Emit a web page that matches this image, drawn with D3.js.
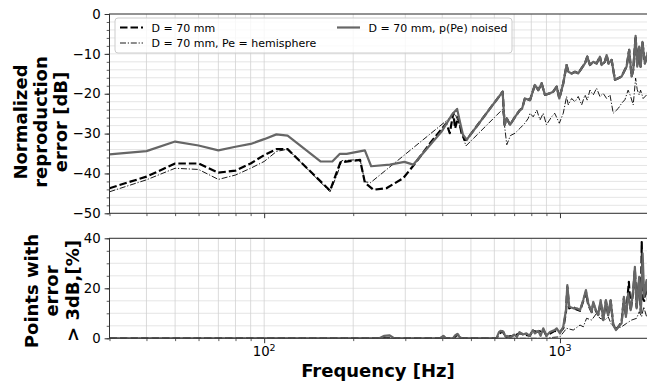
<!DOCTYPE html>
<html>
<head>
<meta charset="utf-8">
<script src="https://cdn.jsdelivr.net/npm/d3@7"></script>
<style>
  body { margin: 0; background: #fff; }
  svg text { font-family: "DejaVu Sans", sans-serif; fill: #000; }
</style>
</head>
<body>
<svg id="chart" width="647" height="384"></svg>
<script>
// ---- data ----
// upper panel: normalized reproduction error [dB]
const dashedFreq = [30, 40, 50, 60, 70, 80, 90, 100, 110, 120, 167, 181, 211, 219, 234, 259, 295, 319, 364, 413,
  424, 436, 442, 453, 465, 476,
  484, 640, 650, 661, 678, 705, 732, 745, 761, 792, 812, 823, 845, 867, 890, 925, 949, 975, 995, 1026,
  1053, 1067, 1095, 1124, 1153, 1184, 1215, 1237, 1263, 1296, 1330, 1365, 1383, 1419, 1438, 1460, 1495, 1534, 1574, 1616,
  1658, 1680, 1714, 1747, 1769, 1802, 1825, 1853, 1873, 1900, 1937, 1985];
const dashedErr = [-43.7, -40.8, -37.5, -37.5, -39.8, -39.3, -37.5, -35.4, -33.9, -33.9, -44.3, -37.2, -36.6, -42.3, -44.1, -43.7, -41.2, -38.1, -32.4, -27.4,
  -29.9, -24.9, -28.7, -25.8, -29.9, -31.6,
  -31.5, -19.5, -27.8, -26.2, -27.8, -25.8, -24.1, -23.7, -21.2, -21.6, -19.1, -17.8, -19.1, -17.4, -20.3, -19.9, -19.5, -18.2, -21.2, -17.4,
  -12.8, -14.5, -14.9, -14.5, -14.9, -13.6, -12.4, -10.7, -12.8, -12.0, -12.4, -10.7, -12.8, -12.0, -10.3, -12.4, -11.5, -16.5, -16.1, -15.7,
  -14.0, -13.2, -9.0, -15.7, -14.0, -5.5, -13.2, -8.2, -13.2, -7.0, -12.4, -9.5];

const hemiFreq = [30, 40, 50, 60, 70, 80, 90, 100, 110, 120, 167, 177, 183, 211, 219, 229,
  442, 449, 459, 481, 640, 661, 680, 705, 732, 761, 781, 792, 812, 835,
  856, 878, 900, 937, 960, 995, 1026, 1053, 1067, 1095, 1124, 1153, 1184, 1215, 1237, 1263, 1296, 1330, 1365, 1400,
  1438, 1476, 1514, 1574, 1616, 1658, 1700, 1730, 1769, 1802, 1825, 1853, 1873, 1911, 1963, 1990];
const hemiErr = [-44.6, -41.6, -38.7, -39.0, -41.5, -40.4, -38.7, -37.0, -34.5, -33.9, -44.6, -40.0, -36.8, -36.5, -42.1, -42.3,
  -25.0, -26.3, -28.3, -33.1, -23.9, -32.8, -30.5, -29.9, -28.7, -27.4, -26.2, -24.9, -25.8, -24.1,
  -26.6, -24.9, -27.8, -25.8, -24.9, -27.4, -24.9, -20.7, -22.8, -21.2, -22.0, -20.7, -22.8, -20.3, -21.6, -19.1, -20.3, -18.6, -20.7, -19.9,
  -21.2, -20.3, -24.9, -23.7, -22.4, -21.5, -19.1, -20.5, -22.8, -16.1, -19.0, -20.3, -19.1, -21.2, -20.3, -21.0];

const noisedFreq = [30, 40, 50, 60, 70, 80, 90, 100, 110, 120, 155, 170, 180, 190, 219, 230, 266, 298, 319, 398,
  431, 449, 459, 470,
  484, 640, 650, 661, 678, 705, 732, 745, 761, 792, 812, 823, 845, 867, 890, 925, 949, 975, 995, 1026,
  1053, 1067, 1095, 1124, 1153, 1184, 1215, 1237, 1263, 1296, 1330, 1365, 1383, 1419, 1438, 1460, 1495, 1534, 1574, 1616,
  1658, 1680, 1714, 1747, 1769, 1802, 1825, 1853, 1873, 1900, 1937, 1985];
const noisedErr = [-35.2, -34.4, -32.0, -33.0, -34.2, -33.3, -32.6, -31.4, -30.2, -30.5, -37.0, -37.0, -35.1, -35.1, -34.2, -38.2, -37.8, -37.1, -37.8, -29.5,
  -25.3, -23.8, -27.0, -30.3,
  -31.5, -19.5, -27.8, -26.2, -27.8, -25.8, -24.1, -23.7, -21.2, -21.6, -19.1, -17.8, -19.1, -17.4, -20.3, -19.9, -19.5, -18.2, -21.2, -17.4,
  -12.8, -14.5, -14.9, -14.5, -14.9, -13.6, -12.4, -10.7, -12.8, -12.0, -12.4, -10.7, -12.8, -12.0, -10.3, -12.4, -11.5, -16.5, -16.1, -15.7,
  -14.0, -13.2, -9.0, -15.7, -14.0, -5.5, -13.2, -8.2, -13.2, -7.0, -12.4, -9.5];

// lower panel: points with error > 3 dB [%]
const dashedPctFreq = [30, 395, 403, 410, 435, 445, 452, 460, 610, 625, 640, 655, 700, 730, 760, 790, 810, 845, 878, 900,
  960, 1000, 1026, 1048, 1059, 1075, 1109, 1139, 1169, 1199, 1224, 1246, 1280, 1296, 1323, 1347, 1373, 1401, 1430, 1456,
  1484, 1514, 1546, 1574, 1616, 1645, 1671, 1710, 1734, 1769, 1792, 1816, 1853, 1877, 1890, 1903, 1927, 1963, 1990];
const dashedPct = [0, 0, 1.2, 0, 0, 1.0, 1.5, 0, 0, 2.0, 2.8, 0.5, 1.0, 2.0, 1.5, 1.0, 3.0, 2.5, 3.5, 1.0,
  3.0, 2.5, 4.0, 10.5, 20.5, 12.0, 12.5, 11.5, 11.0, 15.0, 18.5, 13.5, 10.5, 14.0, 11.0, 9.5, 14.5, 7.5, 15.0, 9.0,
  15.0, 5.5, 3.5, 4.5, 6.5, 16.0, 9.0, 22.6, 11.0, 19.0, 27.5, 12.5, 24.0, 10.5, 38.5, 16.0, 15.0, 22.5, 13.5];

const hemiPctFreq = [30, 900, 950, 1000, 1053, 1109, 1169, 1199, 1230, 1280, 1330, 1365, 1419, 1456, 1495, 1560,
  1616, 1680, 1747, 1816, 1853, 1888, 1920, 1963, 1990];
const hemiPct = [0, 0, 0.4, 0.6, 4.0, 3.3, 5.3, 4.6, 8.0, 7.3, 10.0, 8.0, 7.3, 8.6, 5.3, 4.0,
  4.6, 6.0, 7.3, 8.0, 10.6, 8.6, 12.6, 8.6, 10.0];

const noisedPctFreq = [30, 245, 255, 265, 275, 395, 403, 410, 435, 442, 450, 458, 465, 610, 622, 630, 645, 655, 662, 675,
  700, 715, 730, 750, 770, 790, 810, 823, 845, 860, 878, 900, 925, 960, 975, 1000, 1026, 1048, 1059, 1075,
  1109, 1139, 1169, 1199, 1224, 1246, 1280, 1296, 1323, 1347, 1373, 1401, 1430, 1456, 1484, 1514, 1546, 1574, 1616, 1645,
  1671, 1701, 1734, 1769, 1792, 1816, 1853, 1877, 1903, 1927, 1963, 1990];
const noisedPct = [0, 0, 1.0, 1.2, 0, 0, 1.0, 0, 0, 1.2, 1.8, 0.5, 0, 0, 2.5, 3.0, 2.5, 0.5, 1.0, 0.2,
  1.5, 0.5, 2.5, 1.5, 2.0, 1.0, 3.3, 2.0, 3.0, 1.0, 4.0, 1.0, 2.5, 3.3, 4.0, 2.0, 4.6, 11.3, 21.3, 12.6,
  12.0, 12.0, 11.3, 15.3, 19.3, 14.0, 10.6, 14.6, 11.3, 9.3, 15.3, 7.3, 15.3, 9.3, 15.3, 5.3, 3.3, 4.6, 6.0, 16.6,
  8.6, 18.0, 11.3, 19.3, 28.6, 12.0, 24.6, 10.0, 34.0, 16.6, 23.3, 14.0];

const legendLabels = ['D = 70 mm', 'D = 70 mm, Pe = hemisphere', 'D = 70 mm, p(Pe) noised'];
const errTicks = [0, -10, -20, -30, -40, -50];
const pctTicks = [0, 20, 40];
const freqMajor = [100, 1000];
const freqMinor = [30, 40, 50, 60, 70, 80, 90, 200, 300, 400, 500, 600, 700, 800, 900, 2000];

// ---- layout ----
const svg = d3.select('#chart');
const left = 109.5, right = 649;
const x = d3.scaleLog().domain([30, 2000]).range([left, right]);
const yTop = d3.scaleLinear().domain([-50, 0]).range([213.3, 14]);
const yBot = d3.scaleLinear().domain([0, 40]).range([338.3, 238.3]);

const styles = {
  dashed: {stroke: '#000', width: 2.2, dash: '7.5,3'},
  hemi: {stroke: '#000', width: 0.9, dash: '6,1.8,1.2,1.8'},
  noised: {stroke: '#666', width: 2.2, dash: null}
};

function drawPanel(y, id, minorY, majorY, labelTicks, showXLabels) {
  const [y0, y1] = y.range();
  const g = svg.append('g');

  svg.append('clipPath').attr('id', id).append('rect')
    .attr('x', left).attr('y', y1).attr('width', right - left).attr('height', y0 - y1);

  // grid
  g.selectAll('.hg').data(minorY).join('line')
    .attr('x1', left).attr('x2', right)
    .attr('y1', d => y(d)).attr('y2', d => y(d))
    .attr('stroke', '#dedede').attr('stroke-width', 0.8);
  g.selectAll('.vg').data(freqMinor.concat(freqMajor)).join('line')
    .attr('x1', d => x(d)).attr('x2', d => x(d))
    .attr('y1', y1).attr('y2', y0)
    .attr('stroke', '#d2d2d2').attr('stroke-width', 0.8);

  // y axis ticks
  const ya = g.append('g').attr('transform', `translate(${left},0)`)
    .call(d3.axisLeft(y).tickValues(labelTicks).tickSize(4.9).tickPadding(4).tickFormat(d3.format('d')));
  ya.select('.domain').remove();
  ya.selectAll('text').style('font-size', '13.3px').attr('fill', '#000');
  ya.selectAll('line').attr('stroke', '#333');
  const ym = g.append('g').attr('transform', `translate(${left},0)`)
    .call(d3.axisLeft(y).tickValues(majorY).tickSize(2.8).tickFormat(''));
  ym.select('.domain').remove();
  ym.selectAll('line').attr('stroke', '#333').attr('stroke-width', 0.8);

  // x axis ticks
  const xa = g.append('g').attr('transform', `translate(0,${y0})`)
    .call(d3.axisBottom(x).tickValues(freqMajor).tickSize(4.9).tickFormat(''));
  xa.select('.domain').remove();
  xa.selectAll('line').attr('stroke', '#333');
  const xm = g.append('g').attr('transform', `translate(0,${y0})`)
    .call(d3.axisBottom(x).tickValues(freqMinor).tickSize(2.8).tickFormat(''));
  xm.select('.domain').remove();
  xm.selectAll('line').attr('stroke', '#333').attr('stroke-width', 0.8);

  if (showXLabels) {
    const t = g.selectAll('.xl').data(freqMajor).join('text')
      .attr('x', d => x(d)).attr('y', 356)
      .attr('text-anchor', 'middle').style('font-size', '13.3px');
    t.append('tspan').text('10');
    t.append('tspan').attr('dy', -5.5).style('font-size', '9.5px').text(d => Math.round(Math.log10(d)));
  }
  return g;
}

function drawLine(g, y, clip, freqs, vals, st) {
  const line = d3.line().x(d => x(d[0])).y(d => y(d[1]));
  g.append('path')
    .datum(d3.zip(freqs, vals))
    .attr('clip-path', `url(#${clip})`)
    .attr('d', line)
    .attr('fill', 'none')
    .attr('stroke', st.stroke)
    .attr('stroke-width', st.width)
    .attr('stroke-dasharray', st.dash)
    .attr('stroke-linejoin', 'round');
}

function frame(y) {
  const [y0, y1] = y.range();
  svg.append('rect').attr('x', left).attr('y', y1).attr('width', right - left).attr('height', y0 - y1)
    .attr('fill', 'none').attr('stroke', '#333').attr('stroke-width', 1);
}

// ---- upper panel ----
const gTop = drawPanel(yTop, 'clipTop', d3.range(-50, 1, 2), d3.range(-50, 1, 2), errTicks, false);
drawLine(gTop, yTop, 'clipTop', dashedFreq, dashedErr, styles.dashed);
drawLine(gTop, yTop, 'clipTop', hemiFreq, hemiErr, styles.hemi);
drawLine(gTop, yTop, 'clipTop', noisedFreq, noisedErr, styles.noised);
frame(yTop);

// legend
const lg = svg.append('g');
lg.append('rect').attr('x', 115).attr('y', 18).attr('width', 397).attr('height', 35).attr('rx', 3)
  .attr('fill', '#fff').attr('fill-opacity', 0.8).attr('stroke', '#ccc').attr('stroke-width', 1);
const legendItems = [
  {label: legendLabels[0], st: styles.dashed, x: 120, y: 27.5},
  {label: legendLabels[1], st: styles.hemi, x: 120, y: 43},
  {label: legendLabels[2], st: styles.noised, x: 337, y: 27.5}
];
legendItems.forEach(it => {
  lg.append('line').attr('x1', it.x).attr('x2', it.x + 23).attr('y1', it.y).attr('y2', it.y)
    .attr('stroke', it.st.stroke).attr('stroke-width', it.st.width).attr('stroke-dasharray', it.st.dash);
  lg.append('text').attr('x', it.x + 31.5).attr('y', it.y + 4).style('font-size', '11px').text(it.label);
});

// ---- lower panel ----
const gBot = drawPanel(yBot, 'clipBot', d3.range(0, 41, 5), d3.range(0, 41, 5), pctTicks, true);
drawLine(gBot, yBot, 'clipBot', dashedPctFreq, dashedPct, styles.dashed);
drawLine(gBot, yBot, 'clipBot', hemiPctFreq, hemiPct, styles.hemi);
drawLine(gBot, yBot, 'clipBot', noisedPctFreq, noisedPct, styles.noised);
frame(yBot);

// ---- axis titles ----
function yTitle(lines, xs, cy) {
  lines.forEach((s, i) => {
    svg.append('text').attr('transform', `translate(${xs[i]},${cy}) rotate(-90)`)
      .attr('text-anchor', 'middle').style('font-size', '18px').style('font-weight', 'bold').text(s);
  });
}
yTitle(['Normalized', 'reproduction', 'error [dB]'], [26.5, 46.5, 66.5], 122);
yTitle(['Points with', 'error', '> 3dB,[%]'], [37.5, 58, 78.5], 291);

svg.append('text').attr('x', 378).attr('y', 376.5).attr('text-anchor', 'middle')
  .style('font-size', '18px').style('font-weight', 'bold').text('Frequency [Hz]');
</script>
</body>
</html>
